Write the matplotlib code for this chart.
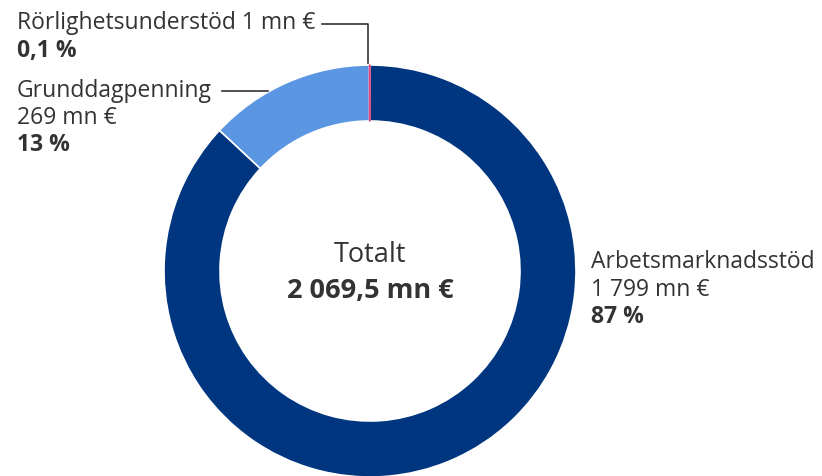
import matplotlib.pyplot as plt

# Data
labels = ['Rörlighetsunderstöd', 'Grunddagpenning', 'Arbetsmarknadsstöd']
amounts = [1, 269, 1799]          # mn €
shares = ['0,1 %', '13 %', '87 %']
total_text = '2 069,5 mn €'
colors = ['#e0457b', '#5b96e3', '#003580']

plt.rcParams['font.family'] = ['Open Sans', 'DejaVu Sans']
txt = '#333333'

fig = plt.figure(figsize=(8.22, 4.76), dpi=100)
ax = fig.add_axes([0, 0, 1, 1])

H = 476
cx, cy, r = 370, H - 271, 206

wedges, _ = ax.pie(amounts, colors=colors, startangle=90, counterclock=True,
                   center=(cx, cy), radius=r, frame=True,
                   wedgeprops=dict(width=56, edgecolor='white', linewidth=1.2))
# make the tiny slice visible
wedges[0].set_edgecolor(colors[0])
wedges[0].set_linewidth(1.0)
wedges[0].set_zorder(3)
ax.set_xlim(0, 822)
ax.set_ylim(0, 476)
ax.set_aspect('equal')
ax.axis('off')

fs = 16.5
# Rörlighetsunderstöd
ax.text(17, H - 29, f'{labels[0]} {amounts[0]} mn €', fontsize=fs, color=txt, va='baseline')
ax.text(17, H - 57, shares[0], fontsize=fs, color=txt, weight='bold', va='baseline')
ax.plot([322, 368, 368], [H - 24, H - 24, H - 63], color='#333333', lw=1.2)

# Grunddagpenning
ax.text(17, H - 97, labels[1], fontsize=fs, color=txt, va='baseline')
ax.text(17, H - 124, f'{amounts[1]} mn €', fontsize=fs, color=txt, va='baseline')
ax.text(17, H - 151, shares[1], fontsize=fs, color=txt, weight='bold', va='baseline')
ax.plot([222, 268], [H - 91, H - 91], color='#333333', lw=1.2)

# Arbetsmarknadsstöd
ax.text(591, H - 268, labels[2], fontsize=fs, color=txt, va='baseline')
ax.text(591, H - 296, '1 799 mn €', fontsize=fs, color=txt, va='baseline')
ax.text(591, H - 323, shares[2], fontsize=fs, color=txt, weight='bold', va='baseline')

# Center
ax.text(cx, H - 262, 'Totalt', fontsize=19.5, color=txt, ha='center', va='baseline')
ax.text(cx, H - 298, total_text, fontsize=19.5, color=txt, ha='center', va='baseline',
        weight='bold')

fig.savefig('out.png', dpi=100)
